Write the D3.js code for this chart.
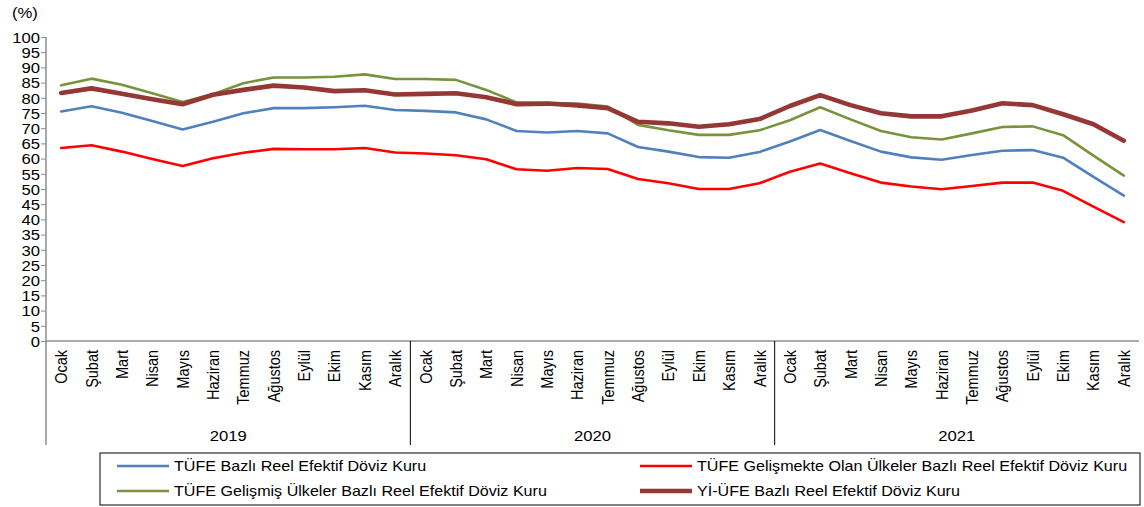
<!DOCTYPE html>
<html>
<head>
<meta charset="utf-8">
<script src="https://cdn.jsdelivr.net/npm/d3@7"></script>
<style>
  html, body { margin: 0; padding: 0; background: #fff; }
  svg text { font-family: "Liberation Sans", Arial, sans-serif; fill: #000; }
</style>
</head>
<body>
<svg id="chart" width="1144" height="507"></svg>
<script>
// Month and year labels
const months = ["Ocak", "Şubat", "Mart", "Nisan", "Mayıs", "Haziran", "Temmuz", "Ağustos", "Eylül", "Ekim", "Kasım", "Aralık"];
const years = ["2019", "2020", "2021"];
const yTicks = d3.range(0, 101, 5);

// Real effective exchange rate indices, monthly 2019–2021
const tufe = [
  75.5, 77.2, 75.1, 72.4, 69.6, 72.1, 74.9, 76.6, 76.6, 76.9, 77.4, 76.0,
  75.7, 75.2, 72.9, 69.1, 68.6, 69.1, 68.3, 63.8, 62.3, 60.5, 60.3, 62.2,
  65.6, 69.4, 65.8, 62.3, 60.4, 59.6, 61.2, 62.6, 62.8, 60.3, 54.0, 47.8
];
const tufeGelismekte = [
  63.5, 64.4, 62.3, 59.9, 57.6, 60.1, 61.9, 63.2, 63.1, 63.1, 63.5, 62.0,
  61.7, 61.1, 59.8, 56.5, 56.0, 56.9, 56.6, 53.3, 51.9, 50.0, 50.0, 51.9,
  55.7, 58.4, 55.2, 52.1, 50.8, 49.9, 51.0, 52.1, 52.1, 49.4, 44.2, 39.1
];
const tufeGelismis = [
  84.1, 86.3, 84.3, 81.5, 78.6, 81.2, 84.8, 86.7, 86.7, 86.9, 87.7, 86.2,
  86.2, 85.9, 82.6, 78.5, 78.3, 78.1, 77.1, 71.1, 69.3, 67.8, 67.8, 69.3,
  72.6, 76.9, 72.9, 69.1, 67.0, 66.3, 68.3, 70.4, 70.6, 67.7, 61.0, 54.4
];
const yiUfe = [
  81.6, 83.1, 81.3, 79.5, 77.9, 81.0, 82.6, 84.0, 83.4, 82.2, 82.5, 81.1,
  81.3, 81.5, 80.2, 77.9, 78.1, 77.5, 76.6, 72.1, 71.6, 70.5, 71.3, 73.0,
  77.3, 80.9, 77.6, 74.9, 73.9, 73.9, 75.8, 78.2, 77.6, 74.6, 71.3, 65.9
];

const series = [
  { name: "TÜFE Bazlı Reel Efektif Döviz Kuru", values: tufe, color: "#4F81BD", width: 2.6 },
  { name: "TÜFE Gelişmekte Olan Ülkeler Bazlı Reel Efektif Döviz Kuru", values: tufeGelismekte, color: "#FF0000", width: 2.6 },
  { name: "TÜFE Gelişmiş Ülkeler Bazlı Reel Efektif Döviz Kuru", values: tufeGelismis, color: "#77933C", width: 2.6 },
  { name: "Yİ-ÜFE Bazlı Reel Efektif Döviz Kuru", values: yiUfe, color: "#953735", width: 4.6 }
];

const svg = d3.select("#chart");
const axisColor = "#8c8c8c";
const sx = 1.15;            // horizontal widening of the lettering
const fs = "14.5px";
const n = months.length * years.length;

const x = d3.scaleBand().domain(d3.range(n)).range([46, 1139]).paddingInner(0).paddingOuter(0);
const y = d3.scaleLinear().domain([0, 100]).range([341, 37]);
const cx = i => x(i) + x.bandwidth() / 2;

// Places a text at (px, py) with widened glyphs
function label(parent, px, py, str, anchor, size) {
  return parent.append("text")
    .attr("transform", `translate(${px},${py}) scale(${sx},1)`)
    .attr("text-anchor", anchor || "start")
    .style("font-size", size || fs)
    .text(str);
}

// Y axis
const yAxis = svg.append("g")
  .attr("transform", "translate(46,0)")
  .call(d3.axisLeft(y).tickValues(yTicks).tickSize(5).tickPadding(3));
yAxis.select(".domain").remove();
yAxis.selectAll(".tick line").attr("stroke", axisColor);
yAxis.selectAll(".tick text")
  .style("font-size", fs)
  .attr("x", null).attr("dy", "0.36em")
  .attr("transform", `translate(-6,0) scale(${sx},1)`);

// Axis lines (y axis extends down through the category label area)
svg.append("line").attr("x1", 46).attr("x2", 46).attr("y1", 37).attr("y2", 445)
  .attr("stroke", axisColor).attr("stroke-width", 1.5);
svg.append("line").attr("x1", 46).attr("x2", 1139).attr("y1", y(0)).attr("y2", y(0))
  .attr("stroke", axisColor).attr("stroke-width", 1.5);

// Year separators and year labels
years.forEach((yr, k) => {
  if (k > 0) {
    const bx = x(k * months.length);
    svg.append("line").attr("x1", bx).attr("x2", bx).attr("y1", y(0)).attr("y2", 445)
      .attr("stroke", "#000").attr("stroke-width", 1);
  }
  const mid = (x(k * months.length) + x(k * months.length + months.length - 1) + x.bandwidth()) / 2;
  label(svg, mid, 441, yr, "middle");
});

// Month labels, rotated
const xAxis = svg.append("g")
  .attr("transform", `translate(0,${y(0)})`)
  .call(d3.axisBottom(x).tickSize(0).tickFormat(i => months[i % months.length]));
xAxis.select(".domain").remove();
xAxis.selectAll(".tick text")
  .style("font-size", fs)
  .attr("text-anchor", "end")
  .attr("x", -9)
  .attr("y", 0)
  .attr("dy", "0.36em")
  .attr("transform", `scale(${sx},1) rotate(-90)`);

// "(%)" unit label
label(svg, 12, 18, "(%)");

// Lines
const line = d3.line().x((d, i) => cx(i)).y(d => y(d));
series.forEach(s => {
  svg.append("path")
    .datum(s.values)
    .attr("d", line)
    .attr("fill", "none")
    .attr("stroke", s.color)
    .attr("stroke-width", s.width)
    .attr("stroke-linejoin", "round")
    .attr("stroke-linecap", "round");
});

// Legend
const legend = svg.append("g");
legend.append("rect").attr("x", 100).attr("y", 453).attr("width", 1040).attr("height", 52)
  .attr("fill", "#fff").attr("stroke", "#000").attr("stroke-width", 1);
const legendPos = [
  { x: 117, y: 466 }, { x: 640, y: 466 },
  { x: 117, y: 491 }, { x: 640, y: 491 }
];
series.forEach((s, i) => {
  const p = legendPos[i];
  legend.append("line").attr("x1", p.x).attr("x2", p.x + 52).attr("y1", p.y).attr("y2", p.y)
    .attr("stroke", s.color).attr("stroke-width", s.width);
  label(legend, p.x + 57, p.y, s.name, "start", "14px").attr("dy", "0.36em");
});
</script>
</body>
</html>
